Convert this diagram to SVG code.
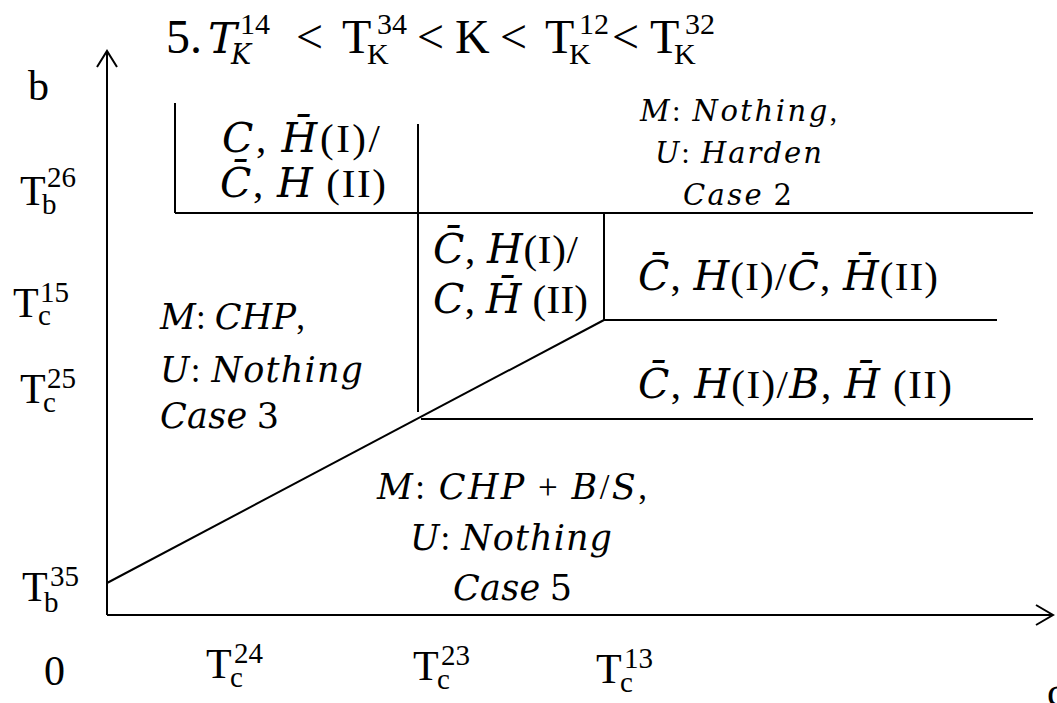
<svg xmlns="http://www.w3.org/2000/svg" width="1057" height="703" viewBox="0 0 1057 703">
<style>
text{font-family:"Liberation Serif","Times New Roman",serif;fill:#000}
.i{font-family:"DejaVu Serif","Liberation Serif",serif;font-style:italic}
.d{font-family:"DejaVu Serif","Liberation Serif",serif}
.ti{font-family:"DejaVu Serif","Liberation Serif",serif;font-style:italic;font-size:90%}
.ln{stroke:#000;stroke-width:2;fill:none}
.big{font-size:48px}
.sup{font-size:30px}
.ax{font-size:42px}
.axs{font-size:29px}
.lab{font-size:41px}
.m29{font-size:29px}
.m35{font-size:35px}
</style>
<rect width="1057" height="703" fill="#fff"/>

<g id="title">
<text class="big"><tspan x="166" y="53">5.</tspan><tspan class="ti" x="208" y="53">T</tspan><tspan class="sup" x="240" y="34">14</tspan><tspan class="sup"><tspan class="ti" x="231" y="64">K</tspan></tspan><tspan x="296" y="53">&lt;</tspan><tspan x="342" y="53">T</tspan><tspan class="sup" x="377" y="34">34</tspan><tspan class="sup" x="367" y="64">K</tspan><tspan x="417" y="53">&lt;</tspan><tspan x="455" y="53">K</tspan><tspan x="500" y="53">&lt;</tspan><tspan x="545" y="53">T</tspan><tspan class="sup" x="579" y="34">12</tspan><tspan class="sup" x="569" y="64">K</tspan><tspan x="612" y="53">&lt;</tspan><tspan x="650" y="53">T</tspan><tspan class="sup" x="685" y="34">32</tspan><tspan class="sup" x="674" y="64">K</tspan></text>
</g>

<g id="connectors">
<path class="ln" d="M107,615 V51"/>
<path class="ln" d="M97,67 L107,51 L117,67"/>
<path class="ln" d="M107,615 H1053"/>
<path class="ln" d="M1036,605 L1053,615 L1036,625"/>
<path class="ln" d="M175,103 V213"/>
<path class="ln" d="M175,213 H1033"/>
<path class="ln" d="M418,124 V412"/>
<path class="ln" d="M604,213 V320"/>
<path class="ln" d="M604,320 H997"/>
<path class="ln" d="M107,583 L604,320"/>
<path class="ln" d="M421,419 H1033"/>
</g>

<g id="axis-labels">
<text class="ax" x="28" y="100">b</text>
<text class="ax"><tspan x="20" y="205">T</tspan><tspan class="axs" x="47" y="187">26</tspan><tspan class="axs" x="42" y="214">b</tspan></text>
<text class="ax"><tspan x="13" y="317">T</tspan><tspan class="axs" x="40" y="302">15</tspan><tspan class="axs" x="38" y="325">c</tspan></text>
<text class="ax"><tspan x="20" y="403">T</tspan><tspan class="axs" x="47" y="388">25</tspan><tspan class="axs" x="43" y="412">c</tspan></text>
<text class="ax"><tspan x="22" y="601">T</tspan><tspan class="axs" x="50" y="586">35</tspan><tspan class="axs" x="44" y="612">b</tspan></text>
<text class="ax" x="44" y="685">0</text>
<text class="ax"><tspan x="206" y="678">T</tspan><tspan class="axs" x="234" y="663">24</tspan><tspan class="axs" x="230" y="687">c</tspan></text>
<text class="ax"><tspan x="413" y="680">T</tspan><tspan class="axs" x="441" y="665">23</tspan><tspan class="axs" x="437" y="689">c</tspan></text>
<text class="ax"><tspan x="596" y="683">T</tspan><tspan class="axs" x="624" y="668">13</tspan><tspan class="axs" x="620" y="692">c</tspan></text>
<text class="ax" x="1047" y="706">c</text>
</g>

<g id="region-top-left">
<text class="lab" x="222" y="152" textLength="158" lengthAdjust="spacing"><tspan class="i">C</tspan>, <tspan class="i">H&#x304;</tspan>(I)/</text>
<text class="lab" x="220" y="197" textLength="166" lengthAdjust="spacing"><tspan class="i">C&#x304;</tspan>, <tspan class="i">H</tspan> (II)</text>
</g>

<g id="region-case2">
<text class="m29" x="640" y="121" textLength="197" lengthAdjust="spacing"><tspan class="i">M</tspan>: <tspan class="i">Nothing</tspan>,</text>
<text class="m29" x="655" y="163" textLength="167" lengthAdjust="spacing"><tspan class="i">U</tspan>: <tspan class="i">Harden</tspan></text>
<text class="m29" x="683" y="205" textLength="109" lengthAdjust="spacing"><tspan class="i">Case</tspan> <tspan class="d">2</tspan></text>
</g>

<g id="region-middle">
<text class="lab" x="433" y="263" textLength="145" lengthAdjust="spacing"><tspan class="i">C&#x304;</tspan>, <tspan class="i">H</tspan>(I)/</text>
<text class="lab" x="433" y="313" textLength="155" lengthAdjust="spacing"><tspan class="i">C</tspan>, <tspan class="i">H&#x304;</tspan> (II)</text>
</g>

<g id="region-right-upper">
<text class="lab" x="638" y="290" textLength="300" lengthAdjust="spacing"><tspan class="i">C&#x304;</tspan>, <tspan class="i">H</tspan>(I)/<tspan class="i">C&#x304;</tspan>, <tspan class="i">H&#x304;</tspan>(II)</text>
</g>

<g id="region-right-lower">
<text class="lab" x="638" y="398" textLength="314" lengthAdjust="spacing"><tspan class="i">C&#x304;</tspan>, <tspan class="i">H</tspan>(I)/<tspan class="i">B</tspan>, <tspan class="i">H&#x304;</tspan> (II)</text>
</g>

<g id="region-case3">
<text class="m35" x="160" y="329" textLength="145" lengthAdjust="spacing"><tspan class="i">M</tspan>: <tspan class="i">CHP</tspan>,</text>
<text class="m35" x="160" y="382" textLength="203" lengthAdjust="spacing"><tspan class="i">U</tspan>: <tspan class="i">Nothing</tspan></text>
<text class="m35" x="160" y="428" textLength="119" lengthAdjust="spacing"><tspan class="i">Case</tspan> <tspan class="d">3</tspan></text>
</g>

<g id="region-case5">
<text class="m35" x="377" y="499" textLength="270" lengthAdjust="spacing"><tspan class="i">M</tspan>: <tspan class="i">CHP</tspan> + <tspan class="i">B</tspan>/<tspan class="i">S</tspan>,</text>
<text class="m35" x="410" y="550" textLength="202" lengthAdjust="spacing"><tspan class="i">U</tspan>: <tspan class="i">Nothing</tspan></text>
<text class="m35" x="453" y="600" textLength="119" lengthAdjust="spacing"><tspan class="i">Case</tspan> <tspan class="d">5</tspan></text>
</g>
</svg>
